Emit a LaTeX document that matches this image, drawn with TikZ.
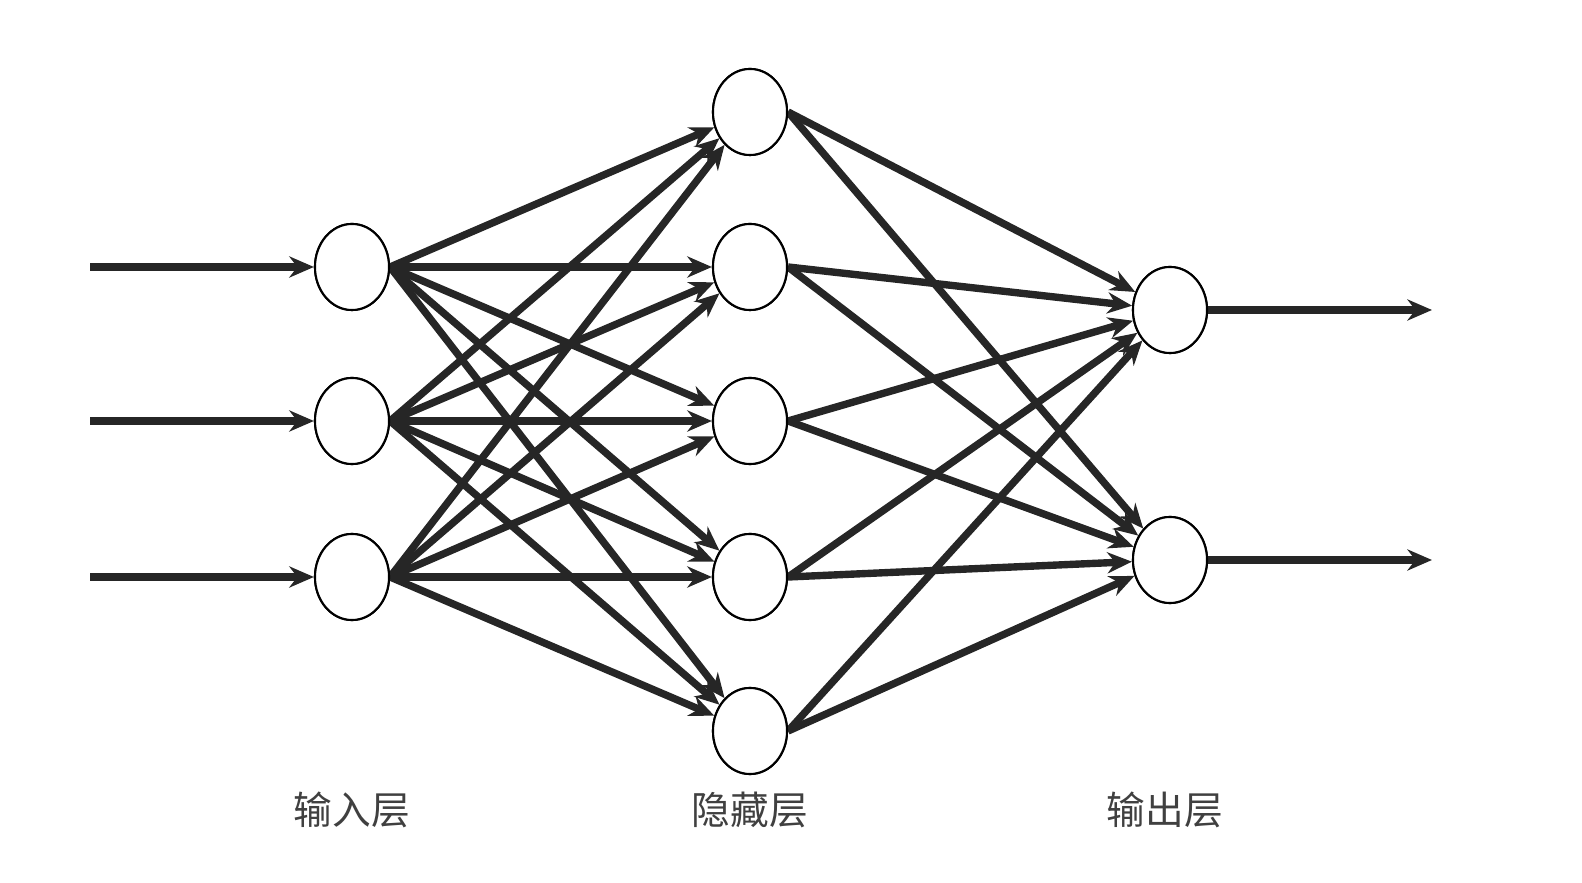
\documentclass[tikz,border=0pt]{standalone}
\usepackage{fontspec}
\newfontfamily\cjk{Noto Sans CJK SC}
\usetikzlibrary{arrows.meta,shapes.geometric}
\begin{document}
\begin{tikzpicture}[x=0.01cm,y=-0.01cm,
  neuron/.style={draw,ellipse,line width=0.6pt,minimum width=0.74cm,minimum height=0.86cm,inner sep=0pt},
  conn/.style={line width=2.1pt,draw=black!85,-{Stealth[length=7pt,width=6pt]}},
  lbl/.style={font=\cjk\fontsize{11}{13}\selectfont,text=black!75}]
\useasboundingbox (0,0) rectangle (1582,883);
\foreach \i/\y in {1/267,2/421,3/577} \node[neuron] (i\i) at (352,\y) {};
\foreach \i/\y in {1/112,2/267,3/421,4/577,5/731} \node[neuron] (h\i) at (750,\y) {};
\foreach \i/\y in {1/310,2/560} \node[neuron] (o\i) at (1170,\y) {};
\foreach \i/\y in {1/267,2/421,3/577} {\coordinate (s\i) at (90,\y); \draw[conn] (s\i) -- (i\i.west);}
\foreach \i/\y in {1/310,2/560} {\coordinate (t\i) at (1432,\y); \draw[conn] (o\i.east) -- (t\i);}
\foreach \a in {1,2,3} \foreach \b in {1,...,5} \draw[conn] (i\a.east) -- (h\b);
\foreach \a in {1,...,5} \foreach \b in {1,2} \draw[conn] (h\a.east) -- (o\b);
\foreach \n in {i1,i2,i3,h1,h2,h3,h4,h5,o1,o2} \node[neuron,fill=white] at (\n) {};
\node[lbl] (l1) at (352,810) {输入层};
\node[lbl] (l2) at (750,810) {隐藏层};
\node[lbl] (l3) at (1165,810) {输出层};
\end{tikzpicture}
\end{document}
